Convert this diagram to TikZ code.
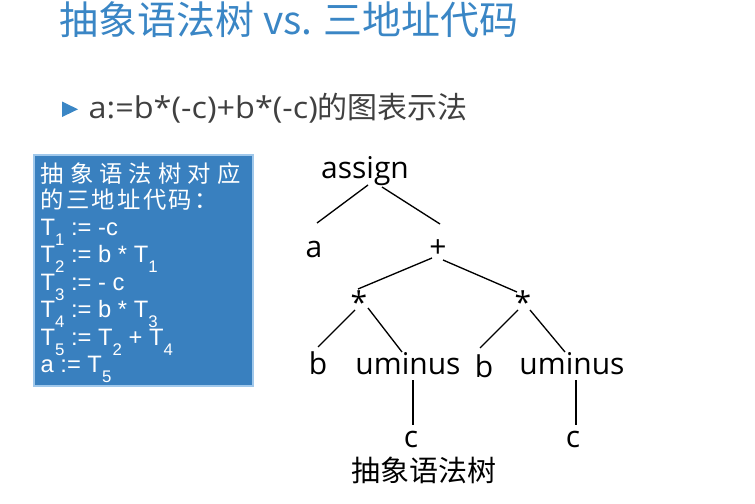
\documentclass[tikz,border=0pt]{standalone}
\usepackage{fontspec}
\setmainfont{Open Sans}
\newfontfamily\cjk{Noto Sans CJK SC}
\newfontfamily\arial{Liberation Sans}
\usetikzlibrary{calc}

\definecolor{titleblue}{RGB}{58,134,197}
\definecolor{boxblue}{RGB}{57,128,191}
\definecolor{boxedge}{RGB}{160,200,235}
\definecolor{textgray}{RGB}{64,64,64}

% lowered index in the code box
\newcommand\sbs[1]{\raisebox{-7.5pt}{\fontsize{12.6pt}{12.6pt}\selectfont #1}}

\begin{document}
\begin{tikzpicture}[x=0.75pt, y=-0.75pt, line width=1pt,
	tnode/.style={font=\fontsize{22.5pt}{27pt}\selectfont, inner sep=0pt, anchor=base},
	boxch/.style={font=\cjk\fontsize{17.5pt}{18pt}\selectfont, text=white, inner sep=0pt, anchor=base west},
	codeline/.style={font=\arial\fontsize{17.8pt}{20pt}\selectfont, text=white, inner sep=0pt, anchor=base west}]
	
	\useasboundingbox (0,0) rectangle (755,503);
	
	% --- Heading ---
	\node[anchor=base west, inner sep=0pt, text=titleblue, font=\cjk\fontsize{29.2pt}{33pt}\selectfont]
	(title) at (59,35) {抽象语法树 vs. 三地址代码};
	
	\fill[titleblue] (62,101.5) -- (62,117) -- (78,109.3) -- cycle;
	\node[anchor=base west, inner sep=0pt, text=textgray, font=\fontsize{22.5pt}{27pt}\selectfont]
	(expr) at (88,118) {\scalebox{1.08}[1]{a:=b*(-c)+b*(-c)}{\cjk 的图表示法}};
	
	% =======================================================
	% LEFT: three-address code box
	% =======================================================
	\draw[draw=boxedge, fill=boxblue, line width=0.8pt] (34,155) rectangle (253,386);
	
	\foreach \ch [count=\i] in {抽,象,语,法,树,对,应}
	\node[boxch] (ha\i) at ({40+29.4*(\i-1)},182) {\ch};
	\foreach \ch [count=\i] in {的,三,地,址,代,码,：}
	\node[boxch] (hb\i) at ({40+25.6*(\i-1)},208) {\ch};
	
	\foreach \txt [count=\i] in {
		{T\sbs{1} := -c},
		{T\sbs{2} := b * T\sbs{1}},
		{T\sbs{3} := - c},
		{T\sbs{4} := b * T\sbs{3}},
		{T\sbs{5} := T\sbs{2} + T\sbs{4}},
		{a := T\sbs{5}}}
	\node[codeline] (code\i) at ({40},{235+27.5*(\i-1)}) {\txt};
	
	% =======================================================
	% RIGHT: syntax tree
	% =======================================================
	\node[tnode] (assign) at (365,178) {assign};
	\node[tnode] (a)      at (314,257) {a};
	\node[tnode] (plus)   at (438,257) {+};
	\node[tnode] (mulL)   at (359,313) {*};
	\node[tnode] (mulR)   at (523,313) {*};
	\node[tnode] (bL)     at (318,374) {b};
	\node[tnode] (umL)    at (408,374) {uminus};
	\node[tnode] (bR)     at (484,377) {b};
	\node[tnode] (umR)    at (572,374) {uminus};
	\node[tnode] (cL)     at (411,447) {c};
	\node[tnode] (cR)     at (573,447) {c};
	
	\foreach \p/\px/\py/\c/\cx/\cy in {
		assign/3/7/a/3/-34, assign/17/9/plus/2/-33,
		plus/-6/1/mulL/-1/-24, plus/5/3/mulR/-6/-21,
		mulL/-4/-3/bL/0/-27, mulL/9/-5/umL/-6/-22,
		mulR/-5/-3/bR/-4/-29, mulR/7/-3/umR/-7/-22,
		umL/5/6/cL/2/-22, umR/4/6/cR/3/-22}
	\draw ($(\p.base)+(\px,\py)$) -- ($(\c.base)+(\cx,\cy)$);
	
	\node[tnode, font=\cjk\fontsize{21.75pt}{26pt}\selectfont] (caption) at (424,481) {抽象语法树};
	
\end{tikzpicture}
\end{document}
